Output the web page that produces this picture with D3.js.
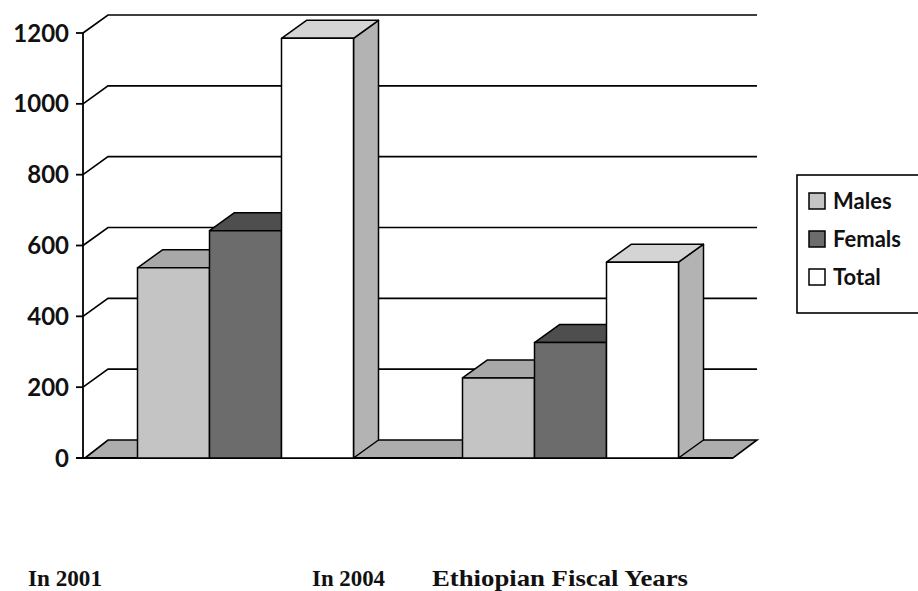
<!DOCTYPE html>
<html><head><meta charset="utf-8">
<script src="https://cdn.jsdelivr.net/npm/d3@7"></script>
<style>body{margin:0;background:#fff}svg{display:block}</style>
</head><body>
<svg id="c" width="918" height="591"></svg>
<script>
const categories = ["In 2001", "In 2004"];
const seriesNames = ["Males", "Femals", "Total"];
const males = [537, 226];
const femals = [642, 326];
const total = [1185, 553];
const yTicks = [0, 200, 400, 600, 800, 1000, 1200];
const bottomLabels = ["In 2001", "In 2004", "Ethiopian Fiscal Years"];

const seriesValues = [males, femals, total];
const frontCol = ["#c4c4c4", "#6c6c6c", "#ffffff"];
const topCol = ["#a8a8a8", "#4e4e4e", "#d4d4d4"];
const sideCol = ["#a8a8a8", "#4e4e4e", "#b3b3b3"];

const svg = d3.select("#c");
const DX = 25, DY = -18;
const y = d3.scaleLinear().domain([0, 1200]).range([458, 33]);
const x0 = d3.scaleBand().domain(categories).range([83, 733]);
const x1 = d3.scaleBand().domain(seriesNames).range([54.5, 270.5]);

// back wall gridlines
const grid = svg.append("g").attr("stroke", "#000").attr("stroke-width", 1.6).attr("fill", "none");
yTicks.forEach(t => {
  const yy = y(t);
  if (t === 0) return;
  grid.append("path").attr("d", `M83,${yy}L${83 + DX},${yy + DY}L757,${yy + DY}`);
});

// floor
const y0 = y(0);
svg.append("path")
  .attr("d", `M85,${y0}L${83 + DX},${y0 + DY}L757,${y0 + DY}L733,${y0}Z`)
  .attr("fill", "#adadad").attr("stroke", "#000").attr("stroke-width", 1.6);

// y axis
svg.append("line").attr("x1", 83).attr("x2", 83).attr("y1", y(1200)).attr("y2", y0)
  .attr("stroke", "#000").attr("stroke-width", 1.8);
svg.append("line").attr("x1", 76).attr("x2", 733).attr("y1", y0).attr("y2", y0)
  .attr("stroke", "#000").attr("stroke-width", 1.8);
yTicks.forEach(t => {
  svg.append("line").attr("x1", 76).attr("x2", 83).attr("y1", y(t)).attr("y2", y(t))
    .attr("stroke", "#000").attr("stroke-width", 1.8);
  svg.append("text").attr("x", 69).attr("y", y(t)).attr("dy", "0.36em")
    .attr("text-anchor", "end").attr("font-family", "Lato, sans-serif").attr("font-weight", "bold")
    .attr("font-size", 24).attr("fill", "#111").text(t);
});

// bars
categories.forEach((c, ci) => {
  seriesNames.forEach((s, si) => {
    const v = seriesValues[si][ci];
    const xa = x0(c) + x1(s), xb = xa + x1.bandwidth();
    const yt = y(v), yb = y0;
    const g = svg.append("g").attr("stroke", "#000").attr("stroke-width", 1.5).attr("stroke-linejoin", "round");
    g.append("path").attr("d", `M${xb},${yb}L${xb + DX},${yb + DY}L${xb + DX},${yt + DY}L${xb},${yt}Z`).attr("fill", sideCol[si]);
    g.append("path").attr("d", `M${xa},${yt}L${xa + DX},${yt + DY}L${xb + DX},${yt + DY}L${xb},${yt}Z`).attr("fill", topCol[si]);
    g.append("rect").attr("x", xa).attr("y", yt).attr("width", xb - xa).attr("height", yb - yt).attr("fill", frontCol[si]);
  });
});

// legend
svg.append("rect").attr("x", 797).attr("y", 175).attr("width", 140).attr("height", 138)
  .attr("fill", "#fff").attr("stroke", "#000").attr("stroke-width", 1.6);
const legY = [201, 239, 277];
seriesNames.forEach((s, i) => {
  svg.append("rect").attr("x", 809).attr("y", legY[i] - 8).attr("width", 16).attr("height", 16)
    .attr("fill", frontCol[i]).attr("stroke", "#000").attr("stroke-width", 1.5);
  svg.append("text").attr("x", 833).attr("y", legY[i]).attr("dy", "0.36em")
    .attr("font-family", "Lato, sans-serif").attr("font-weight", "bold").attr("font-size", 22)
    .attr("fill", "#111").text(s);
});

// bottom labels
const blX = [28, 312, 432];
const blW = [74, 73, 256];
bottomLabels.forEach((t, i) => {
  svg.append("text").attr("x", blX[i]).attr("y", 586)
    .attr("font-family", "'Liberation Serif', 'Times New Roman', serif").attr("font-weight", "bold")
    .attr("font-size", 24).attr("fill", "#111")
    .attr("textLength", blW[i]).attr("lengthAdjust", "spacingAndGlyphs").text(t);
});
</script>
</body></html>
